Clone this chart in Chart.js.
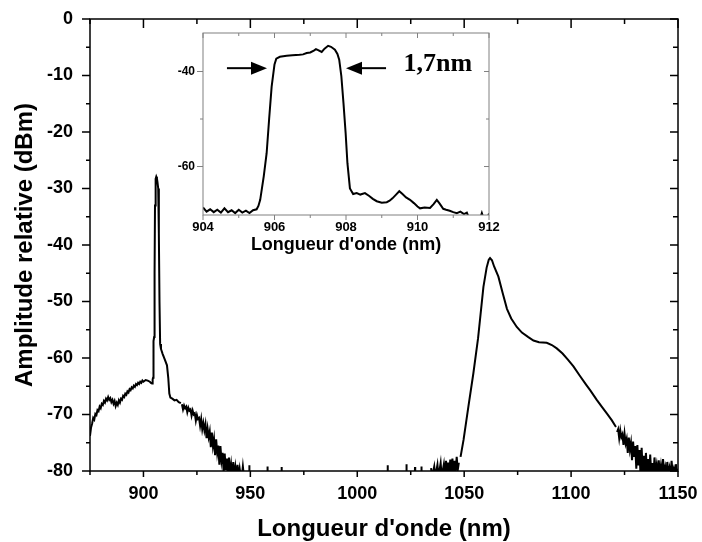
<!DOCTYPE html>
<html>
<head>
<meta charset="utf-8">
<script src="https://cdn.jsdelivr.net/npm/chart.js@4.4.1/dist/chart.umd.min.js"></script>
<style>
  html, body { margin: 0; padding: 0; background: #fff; }
  #wrap { position: relative; width: 702px; height: 542px; }
  #main { position: absolute; left: 0; top: 0; }
  #inset { position: absolute; left: 160px; top: 25px; }
</style>
</head>
<body>
<div id="wrap">
  <canvas id="main" width="702" height="542"></canvas>
  <canvas id="inset" width="345" height="235"></canvas>
</div>
<script>
// --- spectre principal : segments (longueur d'onde nm / amplitude dBm) ---
const leftWl = [
  875, 875.5, 876, 876.5, 877, 877.5, 878, 878.5, 879, 879.5,
  880, 880.5, 881, 881.5, 882, 882.5, 883, 883.5, 884, 884.5,
  885, 885.5, 886, 886.5, 887, 887.5, 888, 888.5, 889, 889.5,
  890, 890.5, 891, 891.5, 892, 892.5, 893, 893.5, 894, 894.5,
  895, 895.5, 896, 896.5, 897, 897.5, 898, 898.5, 899, 899.5,
  900, 901, 902, 903, 903.5, 904, 904.3, 904.5, 904.7, 905.0,
  905.2, 905.4, 905.7, 906.0, 906.3, 906.6, 906.9, 907.2, 907.5, 907.8,
  908.2, 909, 910, 911, 911.6, 912.1, 912.6, 913.5, 914.5, 915.5,
  916.5, 917.5
];
const leftDb = [
  -73.8, -72.3, -71.6, -70.6, -70.9, -69.9, -70.1, -69.2, -69.4, -68.6,
  -68.9, -68.1, -68.3, -67.6, -67.9, -67.2, -67.5, -66.9, -67.4, -67.1,
  -67.8, -67.4, -68.1, -67.6, -68.5, -67.9, -68.3, -67.5, -67.9, -67.2,
  -67.4, -66.7, -66.9, -66.3, -66.5, -65.9, -66.1, -65.5, -65.7, -65.2,
  -65.4, -64.9, -65.1, -64.6, -64.8, -64.4, -64.6, -64.2, -64.4, -64.0,
  -64.2, -63.9, -64.0, -64.2, -64.4, -64.5, -63.8, -63.5, -57.0, -56.3,
  -45.0, -33.0, -28.3, -27.9, -28.2, -29.0, -30.0, -38.0, -50.0, -57.5,
  -58.4, -59.3, -60.3, -61.3, -63.5, -66.3, -67.0, -67.2, -67.5, -67.4,
  -67.8, -68.0
];

const leftTailWl = [
  918, 918.5, 919, 919.5, 920, 920.5, 921, 921.5, 922, 922.5,
  923, 923.5, 924, 924.5, 925, 925.5, 926, 926.5, 927, 927.5,
  928, 928.5, 929, 929.5, 930, 930.5, 931, 931.5, 932, 932.5,
  933, 933.5, 934, 934.5, 935, 935.5, 936, 936.5, 937, 937.5,
  938, 938.5, 939, 939.5, 940, 940.5, 941, 941.5, 942, 942.5,
  943, 943.5, 944, 944.5, 945, 945.5, 946, 946.5, 947
];
const leftTailDb = [
  -68.2, -69.1, -68.4, -68.9, -68.6, -69.6, -68.8, -69.3, -69.1, -70.2,
  -69.3, -70.0, -69.8, -71.1, -70.1, -70.8, -70.6, -72.0, -70.8, -72.6,
  -71.5, -72.8, -71.7, -74.2, -72.5, -74.0, -73.0, -75.8, -73.2, -75.6,
  -74.3, -77.2, -74.4, -76.8, -75.5, -78.9, -75.6, -78.2, -76.8, -80.2,
  -76.9, -79.8, -77.8, -81, -77.6, -80.6, -78.9, -81, -78.4, -81,
  -79.3, -81, -78.9, -81, -79.6, -81, -81, -79.2, -81
];

const floorWl = [
  949.4, 949.5, 949.6, 957.9, 958, 958.1, 964.5, 964.6, 964.7, 1014.1,
  1014.2, 1014.3, 1022.9, 1023, 1023.1, 1026.9, 1027, 1027.1, 1029.9, 1030,
  1030.1, 1034
];
const floorDb = [
  -81, -79.0, -81, -81, -79.2, -81, -81, -79.3, -81, -81,
  -79.0, -81, -81, -78.8, -81, -81, -79.3, -81, -81, -79.2,
  -81, -81
];

const riseWl = [
  1034.5, 1035, 1036, 1036.5, 1037.5, 1038, 1039, 1039.5, 1040.5, 1041,
  1041.5, 1042, 1042.5, 1043, 1043.5, 1044, 1044.5, 1045, 1045.5, 1046,
  1046.5, 1047, 1047.5
];
const riseDb = [
  -79.5, -81, -79.2, -81, -78.9, -81, -78.6, -81, -78.8, -81,
  -78.2, -81, -78.5, -80.5, -78.0, -80.5, -77.8, -80.2, -78.2, -80,
  -77.5, -79.8, -78.5
];

const ramanWl = [
  1048.3, 1049.7, 1052, 1054.3, 1056.5, 1059, 1060.5, 1061.5, 1062.1, 1063,
  1064, 1066, 1068, 1070, 1072, 1074.6, 1077, 1080, 1082.4, 1085,
  1088.6, 1091, 1093.3, 1096, 1098.5, 1101.1, 1104, 1107, 1108.9, 1112,
  1114.5, 1116.7, 1119, 1121
];
const ramanDb = [
  -77.5, -74.5, -68.5, -62.7, -56.5, -47.4, -44.0, -42.6, -42.3, -42.7,
  -43.8, -45.6, -48.5, -51.3, -53.0, -54.5, -55.5, -56.3, -56.9, -57.2,
  -57.3, -57.7, -58.3, -59.2, -60.3, -61.5, -63.1, -64.7, -65.7, -67.4,
  -68.7, -69.8, -71.0, -72.2
];

const rightTailWl = [
  1121.5, 1122, 1122.5, 1123, 1123.5, 1124, 1124.5, 1125, 1125.5, 1126,
  1126.5, 1127, 1127.5, 1128, 1128.5, 1129, 1129.5, 1130, 1130.5, 1131,
  1131.5, 1132, 1132.5, 1133, 1133.5, 1134, 1134.5, 1135, 1135.5, 1136,
  1136.5, 1137, 1137.5, 1138, 1138.5, 1139, 1139.5, 1140, 1140.5, 1141,
  1141.5, 1142, 1142.5, 1143, 1143.5, 1144, 1144.5, 1145, 1145.5, 1146,
  1146.5, 1147, 1147.5, 1148, 1148.5, 1149, 1149.5, 1150
];
const rightTailDb = [
  -73.1, -72.6, -74.2, -72.8, -74.0, -73.5, -75.4, -73.4, -75.1, -74.3,
  -76.8, -74.1, -76.2, -75.0, -78.1, -74.8, -77.5, -75.6, -79.6, -75.4,
  -79.0, -76.3, -81, -75.9, -80.2, -77.3, -81, -76.8, -80.4, -77.9,
  -81, -77.1, -80.5, -78.6, -81, -77.6, -80.0, -78.9, -81, -78.1,
  -80.7, -79.1, -81, -77.9, -80.2, -79.3, -81, -78.4, -80.6, -79.5,
  -81, -78.2, -80.3, -79.6, -81, -78.8, -80.5, -79.6
];

// --- encart : zoom sur la raie laser ---
const insetWl = [
  904.0, 904.1, 904.2, 904.3, 904.4, 904.5, 904.6, 904.7, 904.8, 904.9,
  905.0, 905.1, 905.2, 905.3, 905.4, 905.5, 905.55, 905.6, 905.7, 905.78,
  905.85, 905.92, 906.0, 906.05, 906.15, 906.34, 906.5, 906.7, 906.8, 906.9,
  907.0, 907.1, 907.16, 907.22, 907.32, 907.4, 907.5, 907.58, 907.69, 907.76,
  907.81, 907.87, 907.93, 907.99, 908.04, 908.11, 908.2, 908.3, 908.4, 908.53,
  908.65, 908.75, 908.86, 909.0, 909.14, 909.22, 909.3, 909.4, 909.49, 909.58,
  909.68, 909.79, 909.9, 910.0, 910.07, 910.2, 910.35, 910.45, 910.54, 910.62,
  910.72, 910.8, 910.9, 911.0, 911.1, 911.2, 911.3, 911.38, 911.45, 911.75,
  911.8, 911.85, 911.95, 912.0
];
const insetDb = [
  -68.6, -69.5, -69.0, -69.6, -69.1, -69.7, -68.8, -69.6, -69.2, -69.8,
  -69.1, -69.7, -69.3, -69.8, -69.2, -69.0, -68.3, -67.0, -62.0, -57.2,
  -50.0, -43.2, -38.5, -37.3, -36.9, -36.7, -36.6, -36.5, -36.4, -36.1,
  -36.0, -35.6, -35.3, -35.5, -35.9, -35.2, -34.6, -34.8, -35.4, -36.3,
  -37.5, -41.0, -46.7, -53.0, -59.3, -64.6, -65.8, -65.6, -65.9, -65.6,
  -66.2, -66.8, -67.3, -67.6, -67.5, -67.2, -66.7, -65.9, -65.2, -65.8,
  -66.5, -67.0, -67.7, -68.4, -68.8, -68.6, -68.7, -67.9, -67.0, -67.8,
  -68.9, -69.1, -69.3, -69.6, -69.8, -69.5, -70.0, -69.7, -71.0, -71.0,
  -69.8, -71.0, -71.0, -69.9
];

// graduations
const mainXTicks = [900, 950, 1000, 1050, 1100, 1150];
const mainXMinor = [875, 925, 975, 1025, 1075, 1125];
const mainYTicks = [0, -10, -20, -30, -40, -50, -60, -70, -80];
const mainYMinor = [-5, -15, -25, -35, -45, -55, -65, -75];
const insetXTicks = [904, 906, 908, 910, 912];
const insetXMinor = [905, 907, 909, 911];
const insetYTicks = [-40, -60];
const insetYMinor = [-50];

// annotation largeur de raie
const fwhmText = '1,7nm';
const arrowDb = -39.3;
const leftArrowWl = [904.67, 905.79];
const rightArrowWl = [909.12, 908.0];
const fwhmTextPos = [910.57, -38.4];

const FAMILY = "'Liberation Sans', Arial, sans-serif";
Chart.defaults.font.family = FAMILY;
Chart.defaults.color = '#000';

const pairs = (xs, ys) => xs.map((x, i) => ({ x, y: ys[i] }));
const fixedTicks = vals => scale => { scale.ticks = vals.map(v => ({ value: v })); };
// taille d'axe imposée, sans marge ajoutée pour les étiquettes d'extrémité
const fixSize = (prop, size) => scale => {
  scale[prop] = size;
  scale.paddingTop = scale.paddingBottom = scale.paddingLeft = scale.paddingRight = 0;
};

// cadre + graduations (sortantes à gauche/en bas, rentrantes en haut/à droite)
function frameTicks(o) {
  return {
    id: 'frameTicks',
    afterDraw(chart) {
      const { ctx, chartArea: a } = chart;
      const x = chart.scales.x, y = chart.scales.y;
      ctx.save();
      ctx.strokeStyle = o.color;
      ctx.lineWidth = o.width;
      ctx.strokeRect(a.left, a.top, a.right - a.left, a.bottom - a.top);
      ctx.beginPath();
      const xt = (vals, len) => vals.forEach(v => {
        const p = x.getPixelForValue(v);
        ctx.moveTo(p, a.bottom); ctx.lineTo(p, a.bottom + len[0]);
        ctx.moveTo(p, a.top); ctx.lineTo(p, a.top + len[1]);
      });
      const yt = (vals, len) => vals.forEach(v => {
        const p = y.getPixelForValue(v);
        ctx.moveTo(a.left, p); ctx.lineTo(a.left - len[0], p);
        ctx.moveTo(a.right, p); ctx.lineTo(a.right - len[1], p);
      });
      xt(o.xMajor, o.xLen[0]);
      xt(o.xMinor, o.xLen[1]);
      yt(o.yMajor, o.yLen[0]);
      yt(o.yMinor, o.yLen[1]);
      ctx.stroke();
      ctx.restore();
    }
  };
}

const fwhmPlugin = {
  id: 'fwhm',
  afterDraw(chart) {
    const { ctx } = chart;
    const x = chart.scales.x, y = chart.scales.y;
    const py = y.getPixelForValue(arrowDb);
    ctx.save();
    ctx.strokeStyle = '#000';
    ctx.fillStyle = '#000';
    ctx.lineWidth = 2;
    const arrow = (from, to) => {
      const a = x.getPixelForValue(from), b = x.getPixelForValue(to);
      const dir = Math.sign(b - a);
      ctx.beginPath(); ctx.moveTo(a, py); ctx.lineTo(b - dir * 14, py); ctx.stroke();
      ctx.beginPath();
      ctx.moveTo(b, py);
      ctx.lineTo(b - dir * 16, py - 6.5);
      ctx.lineTo(b - dir * 16, py + 6.5);
      ctx.closePath();
      ctx.fill();
    };
    arrow(leftArrowWl[0], leftArrowWl[1]);
    arrow(rightArrowWl[0], rightArrowWl[1]);
    ctx.font = "bold 26px 'Liberation Serif', 'Times New Roman', serif";
    ctx.textAlign = 'center';
    ctx.textBaseline = 'middle';
    ctx.fillText(fwhmText, x.getPixelForValue(fwhmTextPos[0]), y.getPixelForValue(fwhmTextPos[1]));
    ctx.restore();
  }
};

const noGrid = { display: false, drawTicks: false };
const noBorder = { display: false };

// graphe principal
new Chart(document.getElementById('main'), {
  type: 'line',
  data: {
    datasets: [
      { data: pairs(leftWl, leftDb) },
      { data: pairs(leftTailWl, leftTailDb) },
      { data: pairs(floorWl, floorDb) },
      { data: pairs(riseWl, riseDb) },
      { data: pairs(ramanWl, ramanDb) },
      { data: pairs(rightTailWl, rightTailDb) }
    ].map(d => Object.assign(d, { borderColor: '#000', borderWidth: 2, pointRadius: 0, tension: 0 }))
  },
  options: {
    responsive: false,
    animation: false,
    devicePixelRatio: 1,
    layout: { padding: { top: 19, right: 24, left: 0, bottom: 0 } },
    plugins: { legend: { display: false }, tooltip: { enabled: false } },
    scales: {
      x: {
        type: 'linear', min: 875, max: 1150,
        afterBuildTicks: fixedTicks(mainXTicks),
        afterFit: fixSize('height', 71),
        grid: noGrid, border: noBorder,
        ticks: { padding: 12, autoSkip: false, maxRotation: 0, font: { size: 18, weight: 'bold' }, callback: v => String(v) },
        title: { display: true, text: "Longueur d'onde (nm)", font: { size: 24, weight: 'bold', lineHeight: 1 }, padding: { top: 0, bottom: 1 } }
      },
      y: {
        type: 'linear', min: -80, max: 0,
        afterBuildTicks: fixedTicks(mainYTicks),
        afterFit: fixSize('width', 90),
        grid: noGrid, border: noBorder,
        ticks: { padding: 17, autoSkip: false, font: { size: 18, weight: 'bold' }, callback: v => String(v) },
        title: { display: true, text: 'Amplitude relative (dBm)', font: { size: 24, weight: 'bold', lineHeight: 1 }, padding: { top: 13, bottom: 0 } }
      }
    }
  },
  plugins: [frameTicks({
    color: '#000', width: 1.5,
    xMajor: mainXTicks, xMinor: mainXMinor, xLen: [[6, 9], [4, 5]],
    yMajor: mainYTicks, yMinor: mainYMinor, yLen: [[8, 8], [4, 5]]
  })]
});

// encart
new Chart(document.getElementById('inset'), {
  type: 'line',
  data: {
    datasets: [{ data: pairs(insetWl, insetDb), borderColor: '#000', borderWidth: 2, pointRadius: 0, tension: 0 }]
  },
  options: {
    responsive: false,
    animation: false,
    devicePixelRatio: 1,
    layout: { padding: { top: 8, right: 16, left: 0, bottom: 0 } },
    plugins: { legend: { display: false }, tooltip: { enabled: false } },
    scales: {
      x: {
        type: 'linear', min: 904, max: 912,
        afterBuildTicks: fixedTicks(insetXTicks),
        afterFit: fixSize('height', 45),
        grid: noGrid, border: noBorder,
        ticks: { padding: 5, autoSkip: false, maxRotation: 0, font: { size: 13, weight: 'bold' }, callback: v => String(v) },
        title: { display: true, text: "Longueur d'onde (nm)", font: { size: 18, weight: 'bold', lineHeight: 1 }, padding: { top: 0, bottom: 6 } }
      },
      y: {
        type: 'linear', min: -70.2, max: -31.9,
        afterBuildTicks: fixedTicks(insetYTicks),
        afterFit: fixSize('width', 43),
        grid: noGrid, border: noBorder,
        ticks: { padding: 8, autoSkip: false, font: { size: 12, weight: 'bold' }, callback: v => String(v) }
      }
    }
  },
  plugins: [frameTicks({
    color: '#808080', width: 1,
    xMajor: insetXTicks, xMinor: insetXMinor, xLen: [[5, 5], [3, 3]],
    yMajor: insetYTicks, yMinor: insetYMinor, yLen: [[6, 5], [3, 3]]
  }), fwhmPlugin]
});
</script>
</body>
</html>
